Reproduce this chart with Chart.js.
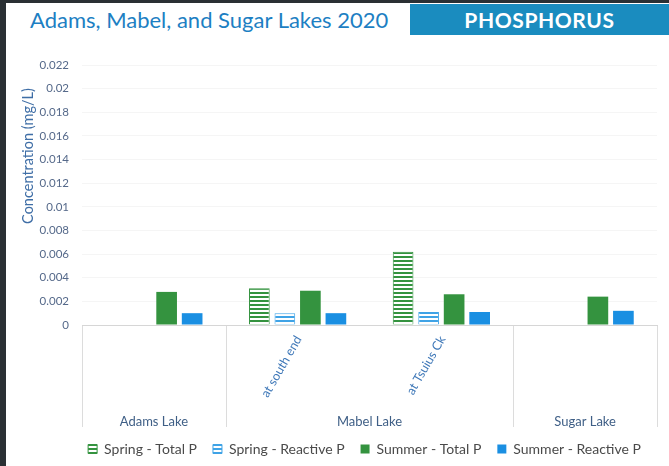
<!DOCTYPE html>
<html>
<head>
<meta charset="utf-8">
<script src="https://cdn.jsdelivr.net/npm/chart.js@4.4.0/dist/chart.umd.min.js"></script>
<style>
    html, body { margin: 0; padding: 0; }
    body { width: 669px; height: 466px; background: #2a3034; overflow: hidden; font-family: Lato, "Open Sans", sans-serif; }
    #card { position: absolute; left: 6px; top: 3px; width: 663px; height: 463px; background: #fff; }
    #title { position: absolute; left: 24px; top: 3px; font-size: 22px; color: #1d7fc3; white-space: nowrap; }
    #tag { position: absolute; left: 404px; top: 1px; width: 259px; height: 31px; background: #1a8cbf; color: #fff;
           font-size: 21px; font-weight: bold; text-align: center; line-height: 31px; letter-spacing: 0.6px; }
    #wrap { position: absolute; left: 0; top: 37px; }
</style>
</head>
<body>
<div id="card">
    <div id="title">Adams, Mabel, and Sugar Lakes 2020</div>
    <div id="tag">PHOSPHORUS</div>
    <div id="wrap"><canvas id="phChart" width="663" height="426"></canvas></div>
</div>
<script>
// data
var lakes = ['Adams Lake', 'Mabel Lake', 'Mabel Lake', 'Sugar Lake'];
var sites = ['', 'at south end', 'at Tsuius Ck', ''];
var springTotal = [null, 0.0031, 0.0062, null];
var springReactive = [null, 0.001, 0.0011, null];
var summerTotal = [0.0028, 0.0029, 0.0026, 0.0024];
var summerReactive = [0.001, 0.001, 0.0011, 0.0012];
var yTickLabels = ['0', '0.002', '0.004', '0.006', '0.008', '0.01', '0.012', '0.014', '0.016', '0.018', '0.02', '0.022'];
var yTitle = 'Concentration (mg/L)';

function stripes(color) {
    var c = document.createElement('canvas');
    c.width = 8; c.height = 4;
    var g = c.getContext('2d');
    g.fillStyle = '#fff';
    g.fillRect(0, 0, 8, 4);
    g.fillStyle = color;
    g.fillRect(0, 0, 8, 2);
    return g.createPattern(c, 'repeat');
}

var green = '#34933f';
var lightBlue = '#3fa3e6';
var blue = '#1a8fe2';
var font = 'Lato, "Open Sans", sans-serif';

// two-level category labels, separators, y title
var groupLabels = {
    id: 'groupLabels',
    afterLayout: function (chart) {
        // legend sits a bit right of centre in the original
        chart.legend.left += 28;
        chart.legend.right += 28;
    },
    afterDraw: function (chart) {
        var ctx = chart.ctx;
        var x = chart.scales.x;
        var top = x.top + 1;
        var half = (x.getPixelForValue(1) - x.getPixelForValue(0)) / 2;
        ctx.save();
        ctx.strokeStyle = '#dcdcdc';
        ctx.lineWidth = 1;
        [0, 1, 3, 4].forEach(function (i) {
            var px = Math.round(x.getPixelForValue(i) - half) + 0.5;
            ctx.beginPath();
            ctx.moveTo(px, top);
            ctx.lineTo(px, x.bottom + 1);
            ctx.stroke();
        });
        ctx.font = '12.5px ' + font;
        ctx.fillStyle = '#3f78b8';
        sites.forEach(function (s, i) {
            if (!s) return;
            var px = x.getPixelForValue(i);
            ctx.save();
            ctx.translate(px + 1, top + 11);
            ctx.rotate(-Math.PI / 3);
            ctx.textAlign = 'right';
            ctx.textBaseline = 'middle';
            ctx.fillText(s, 0, 0);
            ctx.restore();
        });
        ctx.font = '13px ' + font;
        ctx.fillStyle = '#3f5f86';
        ctx.textAlign = 'center';
        ctx.textBaseline = 'middle';
        var done = {};
        lakes.forEach(function (name) {
            if (done[name]) return;
            var idx = [];
            lakes.forEach(function (n, j) { if (n === name) idx.push(j); });
            var cx = (x.getPixelForValue(idx[0]) + x.getPixelForValue(idx[idx.length - 1])) / 2;
            ctx.fillText(name, cx, x.bottom - 4);
            done[name] = true;
        });
        // y axis title, placed high like the original
        ctx.save();
        ctx.font = '14.5px ' + font;
        ctx.fillStyle = '#3f6ea6';
        ctx.translate(22, 116);
        ctx.rotate(-Math.PI / 2);
        ctx.fillText(yTitle, 0, 0);
        ctx.restore();
        ctx.restore();
    }
};

var ctx = document.getElementById('phChart').getContext('2d');
new Chart(ctx, {
    type: 'bar',
    data: {
        labels: sites,
        datasets: [{
            label: 'Spring - Total P',
            data: springTotal,
            backgroundColor: stripes(green),
            borderColor: green,
            borderWidth: 1
        }, {
            label: 'Spring - Reactive P',
            data: springReactive,
            backgroundColor: stripes(lightBlue),
            borderColor: lightBlue,
            borderWidth: 1
        }, {
            label: 'Summer - Total P',
            data: summerTotal,
            backgroundColor: green,
            borderColor: green,
            borderWidth: 0
        }, {
            label: 'Summer - Reactive P',
            data: summerReactive,
            backgroundColor: blue,
            borderColor: blue,
            borderWidth: 0
        }]
    },
    options: {
        responsive: false,
        animation: false,
        categoryPercentage: 0.71,
        barPercentage: 0.81,
        layout: { padding: { left: 10, right: 12, top: 25, bottom: 0 } },
        plugins: {
            legend: {
                position: 'bottom',
                labels: {
                    boxWidth: 9,
                    boxHeight: 9,
                    padding: 16,
                    color: '#4a4a4a',
                    font: { family: font, size: 14 }
                }
            },
            tooltip: { enabled: false }
        },
        scales: {
            x: {
                grid: { display: false },
                border: { display: true, color: '#d6d6d6' },
                ticks: { display: false },
                afterFit: function (scale) { scale.height = 101; }
            },
            y: {
                min: 0,
                max: 0.022,
                grid: { color: 'rgba(0,0,0,0.04)', drawTicks: false },
                border: { display: false },
                ticks: {
                    stepSize: 0.002,
                    padding: 13,
                    color: '#55698a',
                    font: { family: font, size: 11.5 },
                    callback: function (v, i) { return yTickLabels[i]; }
                },
                afterFit: function (scale) { scale.width = 66; }
            }
        }
    },
    plugins: [groupLabels]
});
</script>
</body>
</html>
